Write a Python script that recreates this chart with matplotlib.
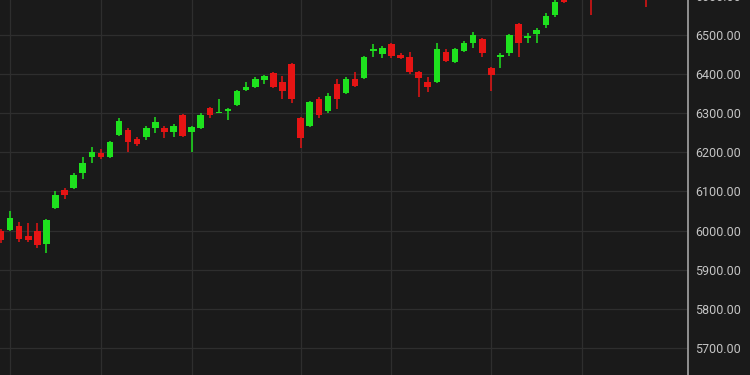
import numpy as np
import matplotlib.pyplot as plt

# daily candles (trading day index 0..71)
opens = [6000, 6002, 6012, 5987, 5999, 5966, 6058, 6104, 6109, 6147,
         6188, 6198, 6188, 6244, 6257, 6234, 6239, 6262, 6262, 6252,
         6296, 6253, 6262, 6313, 6301, 6306, 6321, 6359, 6367, 6385,
         6403, 6380, 6426, 6288, 6267, 6336, 6306, 6375, 6352, 6388,
         6390, 6460, 6451, 6477, 6449, 6444, 6405, 6380, 6380, 6457,
         6431, 6459, 6480, 6490, 6416, 6444, 6454, 6528, 6493, 6503,
         6526, 6551, 6605, 6600, 6625, 6640, 6612, 6640, 6655, 6648,
         6670, 6660]
closes = [5976, 6032, 5979, 5977, 5963, 6027, 6091, 6092, 6142, 6173,
          6201, 6187, 6227, 6280, 6227, 6222, 6262, 6278, 6252, 6267,
          6242, 6265, 6296, 6296, 6304, 6310, 6357, 6368, 6388, 6395,
          6367, 6357, 6336, 6237, 6329, 6296, 6344, 6336, 6388, 6370,
          6444, 6464, 6467, 6446, 6441, 6405, 6390, 6367, 6464, 6434,
          6464, 6480, 6500, 6454, 6398, 6449, 6500, 6480, 6498, 6513,
          6549, 6584, 6584, 6625, 6640, 6610, 6640, 6655, 6648, 6670,
          6660, 6630]
highs = [6005, 6050, 6022, 6020, 6020, 6030, 6101, 6108, 6147, 6188,
         6214, 6209, 6229, 6288, 6262, 6240, 6267, 6290, 6267, 6273,
         6299, 6268, 6301, 6316, 6336, 6313, 6360, 6380, 6393, 6398,
         6405, 6395, 6428, 6290, 6332, 6342, 6352, 6388, 6393, 6406,
         6446, 6477, 6472, 6480, 6454, 6457, 6408, 6393, 6480, 6464,
         6467, 6485, 6508, 6493, 6418, 6454, 6503, 6531, 6505, 6518,
         6556, 6592, 6612, 6630, 6648, 6645, 6650, 6662, 6665, 6678,
         6680, 6665]
lows = [5968, 5998, 5971, 5972, 5955, 5943, 6055, 6081, 6106, 6132,
        6173, 6183, 6186, 6242, 6201, 6216, 6232, 6250, 6237, 6240,
        6240, 6201, 6260, 6288, 6300, 6283, 6318, 6357, 6365, 6375,
        6365, 6336, 6326, 6211, 6265, 6288, 6301, 6311, 6350, 6368,
        6387, 6444, 6441, 6441, 6439, 6400, 6342, 6354, 6378, 6432,
        6429, 6457, 6467, 6444, 6357, 6416, 6446, 6444, 6480, 6480,
        6518, 6546, 6582, 6596, 6612, 6551, 6605, 6630, 6635, 6640,
        6650, 6572]

grid_days = [1, 11, 21, 33, 43, 54, 64]
price_ticks = [5700, 5800, 5900, 6000, 6100, 6200, 6300, 6400, 6500, 6600]

bg = '#1a1a1a'
up_col = '#1ee21e'
down_col = '#e51414'

days = np.arange(len(opens))
o = np.array(opens)
c = np.array(closes)
up = c >= o
cols = np.where(up, up_col, down_col)

fig = plt.figure(figsize=(7.5, 3.75), dpi=100)
fig.patch.set_facecolor(bg)
ax = fig.add_axes([0, 0, 688 / 750, 1.032])
ax.set_facecolor(bg)

# wicks then bodies
ax.vlines(days, lows, highs, colors=cols, linewidth=1.1, zorder=2)
body_h = np.maximum(np.abs(c - o), 3)
ax.bar(days, body_h, bottom=np.minimum(o, c), width=0.72, color=cols, linewidth=0, zorder=3)

ax.set_xlim(-0.11, 75.66)
ax.set_ylim(5631, 6620)

ax.set_xticks(grid_days)
ax.set_yticks(price_ticks)
ax.set_yticklabels(['%.2f' % p for p in price_ticks])
ax.yaxis.tick_right()
ax.tick_params(axis='x', length=0, labelbottom=False)
ax.tick_params(axis='y', length=0, pad=5, labelsize=9, labelcolor='#c4c4c4')
for lab in ax.get_yticklabels():
    lab.set_family('Roboto')

ax.grid(True, color='#2e2e2e', linewidth=0.9, zorder=0)
for s in ['top', 'left', 'bottom']:
    ax.spines[s].set_visible(False)
ax.spines['right'].set_color('#9a9a9a')
ax.spines['right'].set_linewidth(1.3)

plt.savefig('out.png', dpi=100, facecolor=bg)
